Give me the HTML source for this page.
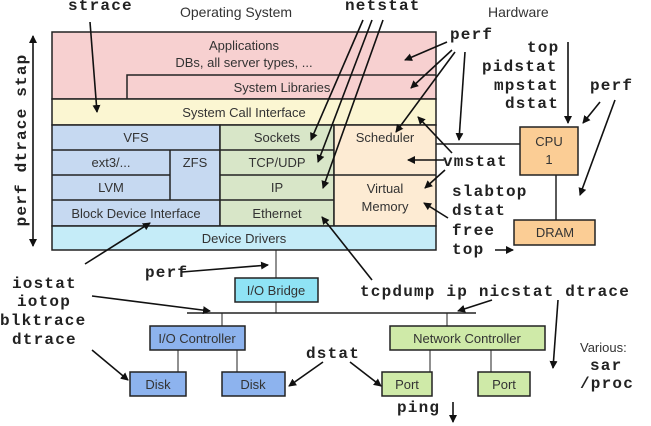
<!DOCTYPE html>
<html><head><meta charset="utf-8"><style>
body{margin:0;background:#fff;}
svg{display:block}
.m{font-family:"Liberation Mono",monospace;font-weight:bold;font-size:16px;letter-spacing:1.2px;fill:#222}
.s{font-family:"Liberation Sans",sans-serif;font-size:13px;fill:#333}
.h{font-family:"Liberation Sans",sans-serif;font-size:14px;fill:#333}
</style></head><body>
<svg width="651" height="426" viewBox="0 0 651 426" xmlns="http://www.w3.org/2000/svg">
<defs><marker id="a" markerWidth="8" markerHeight="8" refX="7" refY="4" orient="auto" markerUnits="userSpaceOnUse"><path d="M0,0 L8,4 L0,8 z" fill="#111"/></marker></defs>
<g stroke="#222" stroke-width="1.5">
<rect x="52" y="32" width="384" height="67" fill="#f7d0d0"/>
<path d="M127,99 V75 H436" fill="none"/>
<rect x="52" y="99" width="384" height="26" fill="#fbf6d2"/>
<rect x="52" y="125" width="168" height="101" fill="#c6d9f1"/>
<line x1="52" y1="150" x2="220" y2="150"/><line x1="52" y1="175" x2="170" y2="175"/><line x1="52" y1="200" x2="220" y2="200"/><line x1="170" y1="150" x2="170" y2="200"/>
<rect x="220" y="125" width="114" height="101" fill="#d8e6c8"/>
<line x1="220" y1="150" x2="334" y2="150"/><line x1="220" y1="175" x2="334" y2="175"/><line x1="220" y1="200" x2="334" y2="200"/>
<rect x="334" y="125" width="102" height="101" fill="#fdebd3"/>
<line x1="334" y1="175" x2="436" y2="175"/>
<rect x="52" y="226" width="384" height="24" fill="#c5ecf8"/>
<line x1="436" y1="144" x2="520" y2="144"/><line x1="556" y1="175" x2="556" y2="220"/>
<rect x="520" y="127" width="58" height="48" fill="#fbcd95"/>
<rect x="514" y="220" width="81" height="25" fill="#fbcd95"/>
<line x1="276" y1="250" x2="276" y2="278" stroke-width="1"/><line x1="276" y1="302" x2="276" y2="313" stroke-width="1"/>
<line x1="187" y1="313" x2="476" y2="313"/>
<line x1="222" y1="313" x2="222" y2="326" stroke-width="1"/><line x1="447" y1="313" x2="447" y2="326" stroke-width="1"/>
<rect x="235" y="278" width="83" height="24" fill="#8fe3f5"/>
<rect x="150" y="326" width="95" height="24" fill="#8db3ee"/>
<rect x="390" y="326" width="155" height="24" fill="#cfeaa8"/>
<line x1="178" y1="350" x2="178" y2="372" stroke-width="1"/><line x1="237" y1="350" x2="237" y2="372" stroke-width="1"/>
<line x1="430" y1="350" x2="430" y2="372" stroke-width="1"/><line x1="491" y1="350" x2="491" y2="372" stroke-width="1"/>
<rect x="130" y="372" width="56" height="24" fill="#8db3ee"/>
<rect x="222" y="372" width="63" height="24" fill="#8db3ee"/>
<rect x="382" y="372" width="50" height="24" fill="#cfeaa8"/>
<rect x="478" y="372" width="52" height="24" fill="#cfeaa8"/>
</g>
<g class="s" text-anchor="middle">
<text x="244" y="50">Applications</text><text x="244" y="67">DBs, all server types, ...</text>
<text x="282" y="92">System Libraries</text><text x="244" y="117">System Call Interface</text>
<text x="136" y="142">VFS</text><text x="111" y="167">ext3/...</text><text x="195" y="167">ZFS</text><text x="111" y="192">LVM</text>
<text x="136" y="218">Block Device Interface</text>
<text x="277" y="142">Sockets</text><text x="277" y="167">TCP/UDP</text><text x="277" y="192">IP</text><text x="277" y="218">Ethernet</text>
<text x="385" y="142">Scheduler</text><text x="385" y="193">Virtual</text><text x="385" y="211">Memory</text>
<text x="244" y="243">Device Drivers</text>
<text x="549" y="146">CPU</text><text x="549" y="164">1</text><text x="555" y="237">DRAM</text>
<text x="276" y="295">I/O Bridge</text><text x="197" y="343">I/O Controller</text><text x="467" y="343">Network Controller</text>
<text x="158" y="389">Disk</text><text x="253" y="389">Disk</text><text x="407" y="389">Port</text><text x="504" y="389">Port</text>
</g>
<text class="h" x="180" y="17">Operating System</text><text class="h" x="488" y="17">Hardware</text>
<text class="s" x="580" y="352">Various:</text>
<g class="m">
<text x="68" y="10">strace</text><text x="345" y="10">netstat</text><text x="450" y="39">perf</text>
<text x="527" y="52">top</text><text x="482" y="71">pidstat</text><text x="494" y="90">mpstat</text><text x="505" y="108">dstat</text>
<text x="590" y="90">perf</text><text x="443" y="166">vmstat</text>
<text x="452" y="196">slabtop</text><text x="452" y="215">dstat</text><text x="452" y="235">free</text><text x="452" y="254">top</text>
<text x="145" y="277">perf</text>
<text x="12" y="288">iostat</text><text x="17" y="306">iotop</text><text x="0" y="325">blktrace</text><text x="12" y="344">dtrace</text>
<text x="360" y="296">tcpdump ip nicstat dtrace</text>
<text x="306" y="358">dstat</text><text x="397" y="412">ping</text>
<text x="590" y="370">sar</text><text x="580" y="388">/proc</text>
<text x="26" y="140" transform="rotate(-90 26 140)" text-anchor="middle">perf dtrace stap</text>
</g>
<g stroke="#111" stroke-width="1.6" fill="none" marker-end="url(#a)">
<line x1="90" y1="22" x2="97" y2="112"/>
<line x1="363" y1="20" x2="311" y2="140"/><line x1="372" y1="20" x2="318" y2="162"/><line x1="383" y1="20" x2="323" y2="188"/>
<line x1="447" y1="42" x2="405" y2="60"/><line x1="452" y1="50" x2="411" y2="88"/><line x1="455" y1="52" x2="396" y2="132"/><line x1="465" y1="52" x2="459" y2="140"/>
<line x1="568" y1="42" x2="568" y2="123"/>
<line x1="600" y1="102" x2="583" y2="123"/><line x1="615" y1="100" x2="580" y2="195"/>
<line x1="444" y1="160" x2="408" y2="160"/><line x1="452" y1="153" x2="418" y2="117"/><line x1="445" y1="170" x2="425" y2="188"/>
<line x1="448" y1="218" x2="424" y2="203"/>
<line x1="495" y1="250" x2="513" y2="250"/>
<line x1="372" y1="280" x2="322" y2="217"/>
<line x1="85" y1="264" x2="150" y2="223"/>
<line x1="92" y1="296" x2="210" y2="311"/>
<line x1="92" y1="350" x2="128" y2="380"/>
<line x1="492" y1="300" x2="458" y2="311"/>
<line x1="558" y1="300" x2="553" y2="368"/>
<line x1="323" y1="362" x2="289" y2="386"/><line x1="350" y1="362" x2="381" y2="386"/>
<line x1="453" y1="402" x2="453" y2="422"/>
<line x1="182" y1="272" x2="268" y2="265"/>
<line x1="33" y1="140" x2="33" y2="36"/><line x1="33" y1="140" x2="33" y2="246"/>
</g>
</svg>
</body></html>
